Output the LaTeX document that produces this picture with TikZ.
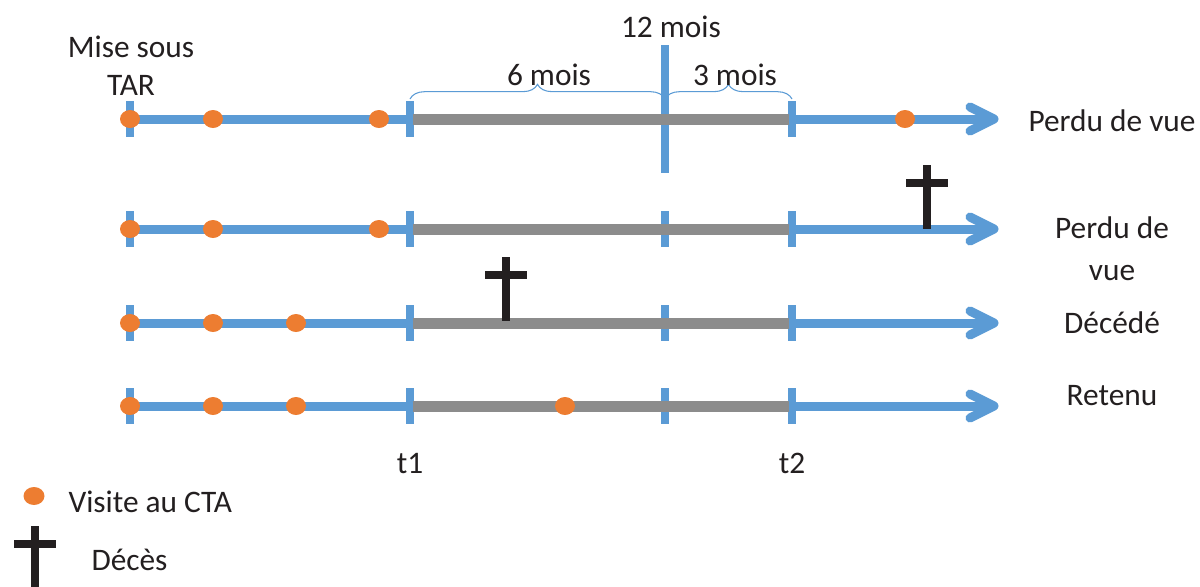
\documentclass[tikz,border=0pt]{standalone}
\usepackage{fontspec}
\setmainfont{Carlito}
\usetikzlibrary{shapes.geometric,decorations.pathreplacing}

\definecolor{lineblue}{RGB}{91,155,213}
\definecolor{visitorange}{RGB}{237,125,49}
\definecolor{windowgray}{RGB}{140,140,140}
\definecolor{inkdark}{RGB}{35,31,32}

\tikzset{every picture/.style={line width=0.75pt}}
\tikzset{
  timeline/.style={draw=lineblue, line width=6.75pt},
  arrowhead/.style={draw=lineblue, line width=6.75pt, line cap=round, line join=round},
  tickmark/.style={draw=lineblue, line width=6pt},
  window/.style={draw=windowgray, line width=8.25pt},
  visit/.style={ellipse, fill=visitorange, minimum width=15pt, minimum height=13.5pt, inner sep=0pt},
  bracket/.style={draw=lineblue, line width=0.8pt, decorate, decoration={brace, amplitude=11pt}},
  lbl/.style={text=inkdark, font=\fontsize{23.5}{28.5}\selectfont, inner sep=0pt, anchor=base},
  deces/.pic={
    \draw[inkdark, line width=6pt] (0,0) -- (0,-64);
    \draw[inkdark, line width=6pt] (-21,-18) -- (21,-18);
  }
}

\begin{document}
\begin{tikzpicture}[x=0.75pt,y=0.75pt,yscale=-1,xscale=1]
    \useasboundingbox (0,0) rectangle (1200,586);

    %Coordinates of the four timelines
    \coordinate (s1) at (130,119); \coordinate (a1) at (410,119); \coordinate (m1) at (665,119); \coordinate (b1) at (792,119); \coordinate (e1) at (994,119);
    \coordinate (s2) at (130,229); \coordinate (a2) at (410,229); \coordinate (m2) at (665,229); \coordinate (b2) at (792,229); \coordinate (e2) at (994,229);
    \coordinate (s3) at (130,323); \coordinate (a3) at (410,323); \coordinate (m3) at (665,323); \coordinate (b3) at (792,323); \coordinate (e3) at (994,323);
    \coordinate (s4) at (130,406); \coordinate (a4) at (410,406); \coordinate (m4) at (665,406); \coordinate (b4) at (792,406); \coordinate (e4) at (994,406);

    %Timeline lines with arrow heads
    \draw [timeline] (s1) -- ([xshift=-3pt]e1) ;
    \draw [arrowhead] (e1) ++(-24,-12) -- (e1) -- ++(-24,12) ;
    \draw [timeline] (s2) -- ([xshift=-3pt]e2) ;
    \draw [arrowhead] (e2) ++(-24,-12) -- (e2) -- ++(-24,12) ;
    \draw [timeline] (s3) -- ([xshift=-3pt]e3) ;
    \draw [arrowhead] (e3) ++(-24,-12) -- (e3) -- ++(-24,12) ;
    \draw [timeline] (s4) -- ([xshift=-3pt]e4) ;
    \draw [arrowhead] (e4) ++(-24,-12) -- (e4) -- ++(-24,12) ;

    %Tick marks
    \draw [tickmark] (s1) ++(0,-18) -- ++(0,36) ;
    \draw [tickmark] (a1) ++(0,-18) -- ++(0,36) ;
    \draw [tickmark] (b1) ++(0,-18) -- ++(0,36) ;
    \draw [tickmark] (m1) ++(0,-74) -- ++(0,128) ;
    \draw [tickmark] (s2) ++(0,-18) -- ++(0,36) ;
    \draw [tickmark] (a2) ++(0,-18) -- ++(0,36) ;
    \draw [tickmark] (m2) ++(0,-18) -- ++(0,36) ;
    \draw [tickmark] (b2) ++(0,-18) -- ++(0,36) ;
    \draw [tickmark] (s3) ++(0,-18) -- ++(0,36) ;
    \draw [tickmark] (a3) ++(0,-18) -- ++(0,36) ;
    \draw [tickmark] (m3) ++(0,-18) -- ++(0,36) ;
    \draw [tickmark] (b3) ++(0,-18) -- ++(0,36) ;
    \draw [tickmark] (s4) ++(0,-18) -- ++(0,36) ;
    \draw [tickmark] (a4) ++(0,-18) -- ++(0,36) ;
    \draw [tickmark] (m4) ++(0,-18) -- ++(0,36) ;
    \draw [tickmark] (b4) ++(0,-18) -- ++(0,36) ;

    %Observation windows
    \draw [window] ([xshift=2.5pt]a1) -- ([xshift=-2pt]b1) ;
    \draw [window] ([xshift=2.5pt]a2) -- ([xshift=-2pt]b2) ;
    \draw [window] ([xshift=2.5pt]a3) -- ([xshift=-2pt]b3) ;
    \draw [window] ([xshift=2.5pt]a4) -- ([xshift=-2pt]b4) ;

    %Braces
    \draw [bracket] (410,99) -- (665,99) ;
    \draw [bracket] (665,99) -- (792,99) ;

    %Visits
    \node [visit] (v11) at (130,119) {};
    \node [visit] (v12) at (213,119) {};
    \node [visit] (v13) at (379,119) {};
    \node [visit] (v14) at (905,119) {};
    \node [visit] (v21) at (130,229) {};
    \node [visit] (v22) at (213,229) {};
    \node [visit] (v23) at (379,229) {};
    \node [visit] (v31) at (130,323) {};
    \node [visit] (v32) at (213,323) {};
    \node [visit] (v33) at (296,323) {};
    \node [visit] (v41) at (130,406) {};
    \node [visit] (v42) at (213,406) {};
    \node [visit] (v43) at (296,406) {};
    \node [visit] (v44) at (565,406) {};

    %Deaths
    \pic at (927,165) {deces};
    \pic at (506,257) {deces};

    % Text Node
    \node [lbl, align=center] (start) at (131,95) {Mise sous\\TAR};
    % Text Node
    \node [lbl] (twelve) at (671,37) {12 mois};
    % Text Node
    \node [lbl] (six) at (549,85) {6 mois};
    % Text Node
    \node [lbl] (three) at (735,85) {3 mois};
    % Text Node
    \node [lbl] (out1) at (1112,131) {Perdu de vue};
    % Text Node
    \node [lbl, align=center, font=\fontsize{23.5}{31.5}\selectfont] (out2) at (1112,280) {Perdu de\\vue};
    % Text Node
    \node [lbl] (out3) at (1112,333) {Décédé};
    % Text Node
    \node [lbl] (out4) at (1112,405) {Retenu};
    % Text Node
    \node [lbl] (tone) at (410,473) {t1};
    % Text Node
    \node [lbl] (ttwo) at (792,473) {t2};

    %Legend
    \node [visit, minimum width=15.75pt] (legvisit) at (34,496) {};
    \node [lbl, anchor=base west] (legvisittxt) at (68,512) {Visite au CTA};
    \pic at (35,526) {deces};
    \node [lbl, anchor=base west] (legdecestxt) at (91,570) {Décès};

\end{tikzpicture}
\end{document}
